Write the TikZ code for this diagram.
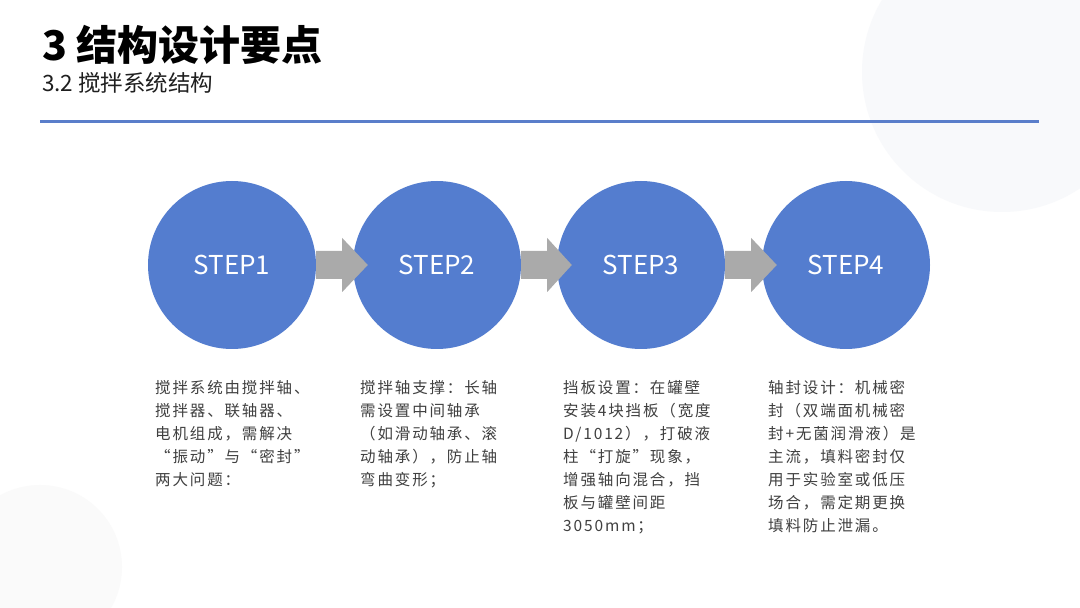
\documentclass[tikz,border=0pt]{standalone}
\usepackage{fontspec}
\setmainfont{Noto Sans CJK SC}
\newfontfamily\notefont[LetterSpace=12]{Noto Sans CJK SC}
\usetikzlibrary{calc}
\definecolor{stepB}{RGB}{84,125,207}
\definecolor{lineB}{RGB}{90,126,202}
\definecolor{arrG}{RGB}{170,170,170}
\definecolor{bgA}{RGB}{248,249,251}
\definecolor{bgB}{RGB}{250,250,250}
\definecolor{txtG}{RGB}{64,64,64}

\begin{document}
\begin{tikzpicture}[x=1pt, y=1pt,
  stepdot/.style={circle, fill=stepB, minimum size=168pt, inner sep=0pt,
    text=white, font=\fontsize{26}{30}\selectfont},
  note/.style={anchor=base west, inner sep=0pt, align=left, text width=190pt,
    text=txtG, font=\notefont\fontsize{15.5}{23}\selectfont}]
\clip (0,0) rectangle (1080,608);
\fill[white] (0,0) rectangle (1080,608);
% pale background discs
\fill[bgA] (1002,536) circle (140);
\fill[bgB] (40,41) circle (82);
% heading and rule
\node[anchor=base west, inner sep=0pt, font=\bfseries\fontsize{41}{48}\selectfont] (title) at (42,547) {3 结构设计要点};
\node[anchor=base west, inner sep=0pt, text=black!88, font=\fontsize{22.5}{26}\selectfont] (subtitle) at (42,516) {3.2 搅拌系统结构};
\draw[lineB, line width=3pt] (40,486) -- (1039,486);
% four steps
\foreach \i/\x in {1/232, 2/437, 3/641, 4/846}
  \node[stepdot] (s\i) at (\x,343) {STEP\i};
% grey block arrows, drawn over the discs
\foreach \a/\b in {1/2, 2/3, 3/4}
  \fill[arrG] ($(s\a.east)+(0,14)$) -- ++(26,0) -- ++(0,13) -- ($(s\b.west)+(15,0)$)
    -- ($(s\a.east)+(26,-27)$) -- ++(0,13) -- ($(s\a.east)+(0,-14)$) -- cycle;
% descriptions
\node[note] (n1) at (155,214) {搅拌系统由搅拌轴、\\搅拌器、联轴器、\\电机组成，需解决\\“振动”与“密封”\\两大问题：};
\node[note] (n2) at (360,214) {搅拌轴支撑：长轴\\需设置中间轴承\\（如滑动轴承、滚\\动轴承），防止轴\\弯曲变形；};
\node[note] (n3) at (563,214) {挡板设置：在罐壁\\安装4块挡板（宽度\\D/1012），打破液\\柱“打旋”现象，\\增强轴向混合，挡\\板与罐壁间距\\3050mm；};
\node[note] (n4) at (768,214) {轴封设计：机械密\\封（双端面机械密\\封+无菌润滑液）是\\主流，填料密封仅\\用于实验室或低压\\场合，需定期更换\\填料防止泄漏。};
\end{tikzpicture}
\end{document}
